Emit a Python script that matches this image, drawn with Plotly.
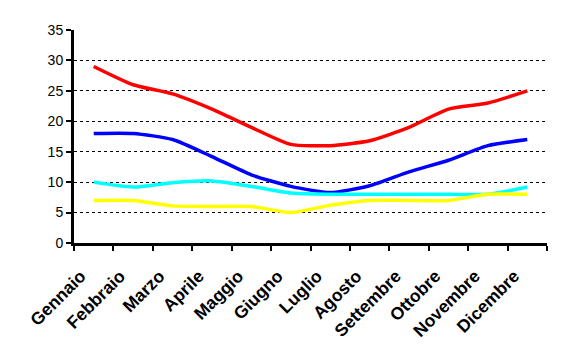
import plotly.graph_objects as go

mesi = ["Gennaio", "Febbraio", "Marzo", "Aprile", "Maggio", "Giugno",
        "Luglio", "Agosto", "Settembre", "Ottobre", "Novembre", "Dicembre"]
rosso = [29, 26, 24.5, 22, 19, 16.2, 16, 16.8, 19, 22, 23, 25]
blu = [18, 18, 17, 14.2, 11.2, 9.3, 8.3, 9.4, 11.7, 13.6, 16, 17]
ciano = [10, 9.2, 9.9, 10.2, 9.3, 8.2, 8, 8, 8, 8, 8, 9.2]
giallo = [7, 7, 6.1, 6, 6, 5, 6.2, 7, 7, 7, 8, 8]

fig = go.Figure()
for vals, col in [(rosso, "#ff0000"), (blu, "#0000ff"), (ciano, "#00ffff"), (giallo, "#ffff00")]:
    fig.add_trace(go.Scatter(x=mesi, y=vals, mode="lines",
                             line=dict(color=col, width=3.5, shape="spline", smoothing=0.6),
                             showlegend=False, hoverinfo="skip"))

fig.update_layout(
    width=563, height=362,
    margin=dict(l=74, r=16, t=30, b=119),
    paper_bgcolor="white", plot_bgcolor="white",
    font=dict(family="Liberation Sans, Arial, sans-serif", color="black"),
)
fig.update_yaxes(range=[0, 35], dtick=5, tick0=0,
                 showline=True, linecolor="black", linewidth=3,
                 ticks="outside", ticklen=5, tickwidth=2, tickcolor="black",
                 showgrid=True, gridcolor="black", gridwidth=1, griddash="3px,3px",
                 zeroline=False, tickfont=dict(size=14, color="black"))
fig.update_xaxes(showline=True, linecolor="black", linewidth=3,
                 ticks="outside", ticklen=5, tickwidth=2, tickcolor="black",
                 tickson="boundaries", showgrid=False, tickangle=-45,
                 range=[-0.5, 11.5], ticklabelshift=-13, ticklabelstandoff=13,
                 tickfont=dict(size=17.5, color="black", family="Liberation Sans, Arial, sans-serif"))
fig.update_xaxes(tickprefix="<b>", ticksuffix="</b>")

fig.write_html("out.html")
